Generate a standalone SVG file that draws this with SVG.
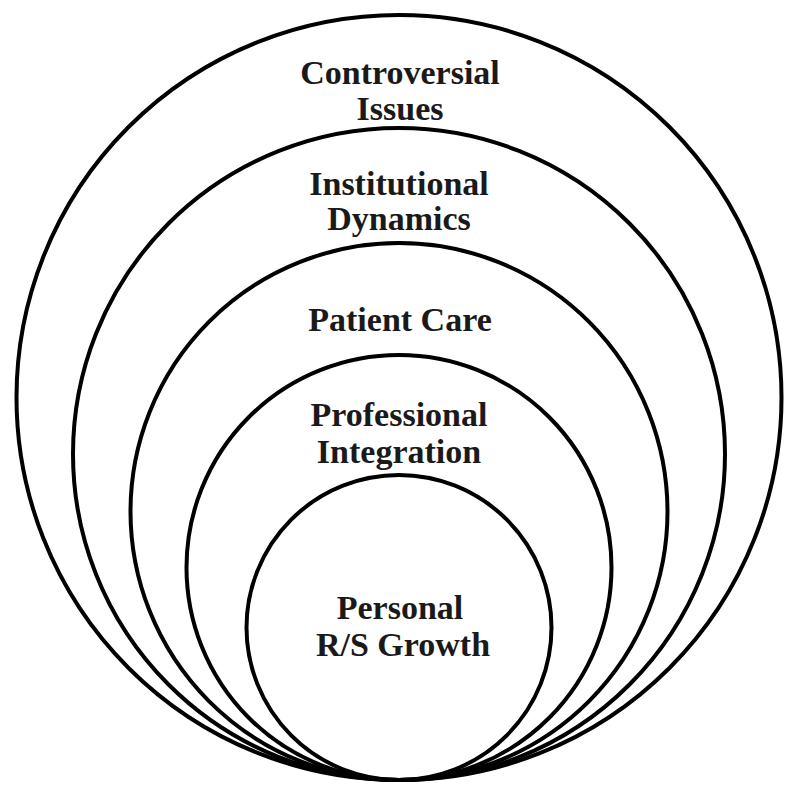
<svg xmlns="http://www.w3.org/2000/svg" width="800" height="796" viewBox="0 0 800 796">
<style>
.ring{fill:none;stroke:#000;stroke-width:4}
.lbl{font-family:"Liberation Serif","Times New Roman",serif;font-weight:bold;font-size:34px;fill:#1a1a1a;text-anchor:middle}
</style>
<rect width="800" height="796" fill="#fff"/>
<g id="controversial-issues">
<circle class="ring" cx="399" cy="397.5" r="382.5"/>
<text class="lbl" x="400" y="84">Controversial</text>
<text class="lbl" x="400" y="120">Issues</text>
</g>
<g id="institutional-dynamics">
<circle class="ring" cx="399" cy="454" r="326"/>
<text class="lbl" x="399" y="195">Institutional</text>
<text class="lbl" x="399" y="230">Dynamics</text>
</g>
<g id="patient-care">
<circle class="ring" cx="399" cy="511.5" r="268.5"/>
<text class="lbl" x="400" y="331">Patient Care</text>
</g>
<g id="professional-integration">
<circle class="ring" cx="399" cy="567.5" r="212.5"/>
<text class="lbl" x="399" y="426">Professional</text>
<text class="lbl" x="399" y="463">Integration</text>
</g>
<g id="personal-rs-growth">
<circle class="ring" cx="399" cy="627.5" r="152.5"/>
<text class="lbl" x="400" y="619">Personal</text>
<text class="lbl" x="403" y="656">R/S Growth</text>
</g>
<g id="connectors"></g>
</svg>
